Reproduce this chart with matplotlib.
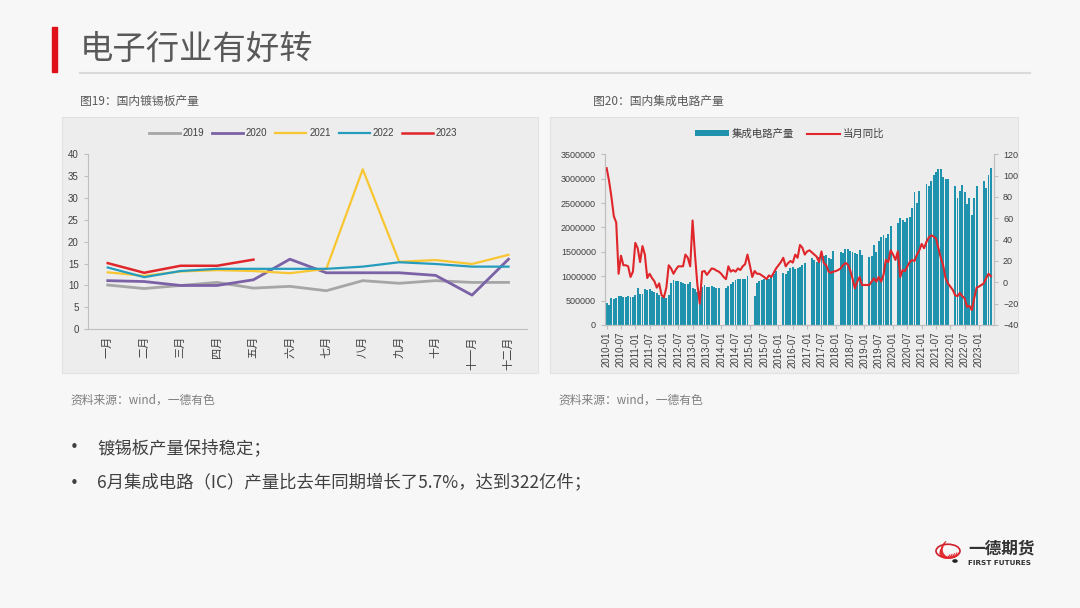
import numpy as np
import matplotlib.pyplot as plt
from matplotlib.patches import Rectangle, Circle, Arc
from matplotlib.lines import Line2D

plt.rcParams['font.family'] = ['Noto Sans CJK SC', 'DejaVu Sans']

W, H = 1080, 608

# ---- chart 1 data : 镀锡板产量 (万吨) ----
months = ['一月', '二月', '三月', '四月', '五月', '六月', '七月', '八月', '九月', '十月', '十一月', '十二月']
tin_2019 = [10.1, 9.3, 10.0, 10.7, 9.4, 9.8, 8.8, 11.1, 10.5, 11.1, 10.7, 10.7]
tin_2020 = [11.1, 10.9, 10.0, 10.0, 11.3, 16.0, 12.9, 12.9, 12.9, 12.3, 7.8, 16.0]
tin_2021 = [13.0, 12.2, 13.2, 13.5, 13.3, 12.8, 13.8, 36.5, 15.4, 15.8, 14.9, 17.0]
tin_2022 = [14.1, 11.9, 13.3, 13.8, 13.8, 13.8, 13.8, 14.3, 15.3, 14.9, 14.3, 14.3]
tin_2023 = [15.1, 12.9, 14.5, 14.5, 15.9]

# ---- chart 2 data : 集成电路产量 (万块) and 当月同比 (%) ----
nan = np.nan
ic_2010 = [450, 420, 550, 530, 560, 590, 590, 580, 580, 600, 580, 570]
ic_2011 = [620, 750, 630, 640, 740, 710, 730, 700, 680, 660, 620, 580]
ic_2012 = [580, 560, 620, 870, 930, 900, 900, 880, 860, 850, 840, 880]
ic_2013 = [750, 730, 680, 700, 780, 820, 780, 770, 790, 780, 750, 760]
ic_2014 = [nan, nan, 760, 790, 840, 880, 920, 940, 950, 940, 950, 1000]
ic_2015 = [nan, nan, 600, 870, 900, 930, 950, 960, 950, 980, 1040, 1100]
ic_2016 = [nan, nan, 1060, 1040, 1100, 1160, 1180, 1140, 1170, 1180, 1220, 1270]
ic_2017 = [nan, nan, 1370, 1340, 1300, 1400, 1440, 1410, 1440, 1380, 1350, 1520]
ic_2018 = [nan, nan, 1500, 1470, 1560, 1560, 1520, 1490, 1470, 1460, 1530, 1440]
ic_2019 = [nan, nan, 1400, 1420, 1640, 1500, 1720, 1800, 1840, 1780, 1860, 2020]
ic_2020 = [nan, nan, 2100, 2200, 2150, 2120, 2200, 2220, 2400, 2720, 2500, 2750]
ic_2021 = [nan, nan, 2900, 2860, 2960, 3080, 3130, 3200, 3200, 3030, 2990, 3000]
ic_2022 = [nan, nan, 2840, 2600, 2750, 2870, 2720, 2480, 2610, 2250, 2600, 2840]
ic_2023 = [nan, nan, 2950, 2800, 3070, 3220]

yoy_2010 = [107, 95, 80, 62, 56, 8, 25, 16, 16, 15, 5, 10]
yoy_2011 = [37, 32, 19, 34, 26, 4, 8, 4, 1, -5, -1, -12]
yoy_2012 = [-14, -5, 16, 13, 8, 12, 15, 15, 15, 26, 23, 15]
yoy_2013 = [58, 26, -2, -20, 10, 10.6, 7, 10, 13, 12.5, 11, 10]
yoy_2014 = [8, 5, 3, 15, 10, 11.5, 10, 13, 11.5, 15, 17, 26]
yoy_2015 = [16, 5, 10.6, 8, 8, 6.5, 5, 3, 6.5, 5, 9, 13]
yoy_2016 = [16, 19, 23, 15, 18, 20, 18.5, 26, 23, 35, 32.5, 26]
yoy_2017 = [29, 30, 28, 26, 24, 19, 29, 18, 16, 10, 9, 10]
yoy_2018 = [10.6, 11.5, 13, 16, 18, 17, 11.5, 3.7, -5.6, 0.6, 5, -2.5]
yoy_2019 = [-2.5, -2.5, -2.5, 0.6, 3.7, 0.6, 5, 0.6, 7, 21, 19, 30]
yoy_2020 = [26, 21, 29, 5, 11.5, 10.5, 15, 19, 21, 20, 26, 30]
yoy_2021 = [36, 32, 38, 42, 44, 43, 41, 32, 23, 16, 4, -1]
yoy_2022 = [-4, -7, -12, -13, -10, -13, -15, -23, -22, -26, -15, -5]
yoy_2023 = [-4, -2.5, -1, 4, 8, 5.7]

ic_years = list(range(2010, 2024))

# ---- figure / slide ----
fig = plt.figure(figsize=(W / 100, H / 100), dpi=100)
fig.patch.set_facecolor('#F7F7F7')


def fx(x):
    return x / W


def fy(y):
    return 1 - y / H


def box(x0, y0, x1, y1):
    return [fx(x0), fy(y1), fx(x1) - fx(x0), fy(y0) - fy(y1)]


# title block
fig.patches.append(Rectangle((fx(52), fy(72)), fx(5), fy(27) - fy(72),
                             transform=fig.transFigure, color='#E0101A'))
fig.lines.append(Line2D([fx(80), fx(1030)], [fy(73), fy(73)],
                        transform=fig.transFigure, color='#DADADA', lw=1.5))
fig.text(fx(80), fy(49), '电子行业有好转', fontsize=24, color='#595959', va='center', ha='left')

# captions
fig.text(fx(80), fy(101), '图19：国内镀锡板产量', fontsize=8.5, color='#595959', va='center')
fig.text(fx(593), fy(101), '图20：国内集成电路产量', fontsize=8.5, color='#595959', va='center')

# panels (behind the axes)
for x0, x1 in [(62, 538), (550, 1018)]:
    fig.patches.append(Rectangle((fx(x0), fy(373)), fx(x1) - fx(x0), fy(117) - fy(373),
                                 transform=fig.transFigure, facecolor='#EDEDED',
                                 edgecolor='#E2E2E2', lw=0.8, zorder=-1))

# sources
fig.text(fx(70), fy(400), '资料来源：wind，一德有色', fontsize=8.5, color='#7F7F7F', va='center')
fig.text(fx(558), fy(400), '资料来源：wind，一德有色', fontsize=8.5, color='#7F7F7F', va='center')

# bullets
bullets = ['镀锡板产量保持稳定；', '6月集成电路（IC）产量比去年同期增长了5.7%，达到322亿件；']
for i, b in enumerate(bullets):
    yy = 448 + i * 35
    fig.text(fx(70), fy(yy), '•', fontsize=11, color='#404040', va='center', fontfamily='DejaVu Sans')
    fig.text(fx(97), fy(yy), b, fontsize=12.5, color='#404040', va='center')

grid_c = '#BFBFBF'
tick_c = '#404040'

# ---- chart 1 ----
ax1 = fig.add_axes(box(87.7, 154, 526.7, 329.3))
ax1.set_facecolor('none')
xs = np.arange(12)
ax1.plot(xs, tin_2019, color='#A6A6A6', lw=2, label='2019')
ax1.plot(xs, tin_2020, color='#7B62A6', lw=2, label='2020')
ax1.plot(xs, tin_2021, color='#F8C630', lw=1.6, label='2021')
ax1.plot(xs, tin_2022, color='#259CBD', lw=1.6, label='2022')
ax1.plot(xs[:len(tin_2023)], tin_2023, color='#E0262B', lw=1.8, label='2023')
ax1.set_xlim(-0.55, 11.5)
ax1.set_ylim(0, 40)
ax1.set_yticks(range(0, 41, 5))
ax1.set_xticks(xs)
ax1.set_xticklabels(months, rotation=90, fontsize=8, color=tick_c)
for lab in ax1.get_yticklabels():
    lab.set_fontfamily('Liberation Sans')
ax1.tick_params(axis='y', labelsize=7, colors=tick_c, length=3, color=grid_c)
ax1.tick_params(axis='x', length=0, pad=5)
for s in ['top', 'right']:
    ax1.spines[s].set_visible(False)
for s in ['left', 'bottom']:
    ax1.spines[s].set_color(grid_c)
leg1 = ax1.legend(loc='center', bbox_to_anchor=(fx(303), fy(133)), bbox_transform=fig.transFigure,
                  ncol=5, frameon=False, fontsize=7, handlelength=3.2, columnspacing=0.8, handletextpad=0.3)
for t in leg1.get_texts():
    t.set_fontfamily('Liberation Sans')
    t.set_color(tick_c)

# ---- chart 2 ----
ic_all = np.array(sum([globals()['ic_%d' % y] for y in ic_years], []), dtype=float) * 1000
yoy_all = np.array(sum([globals()['yoy_%d' % y] for y in ic_years], []), dtype=float)
idx = np.arange(len(ic_all))
ok = ~np.isnan(ic_all)

ax2 = fig.add_axes(box(605, 154.3, 994, 325))
ax2.set_facecolor('none')
ax2.bar(idx[ok], ic_all[ok], width=0.8, color='#1F93AE', label='集成电路产量')
ax2.set_xlim(-0.7, 162.3)
ax2.set_ylim(0, 3500000)
ax2.set_yticks(range(0, 3500001, 500000))
ax2.set_yticklabels([str(v) for v in range(0, 3500001, 500000)])
tick_pos = list(range(0, len(ic_all), 6))
tick_lab = ['%d-%02d' % (2010 + p // 12, p % 12 + 1) for p in tick_pos]
ax2.set_xticks(tick_pos)
ax2.set_xticklabels(tick_lab, rotation=90, fontsize=7, color=tick_c, fontfamily='Liberation Sans')
for lab in ax2.get_yticklabels():
    lab.set_fontfamily('Liberation Sans')
ax2.tick_params(axis='y', labelsize=6.5, colors=tick_c, length=3, color=grid_c)
ax2.tick_params(axis='x', length=3, color=grid_c, pad=2)
ax2.spines['top'].set_visible(False)
for s in ['left', 'bottom', 'right']:
    ax2.spines[s].set_color(grid_c)

ax3 = ax2.twinx()
ax3.plot(idx, yoy_all, color='#E0262B', lw=1.5, label='当月同比')
ax3.set_ylim(-40, 120)
ax3.set_yticks(range(-40, 121, 20))
for lab in ax3.get_yticklabels():
    lab.set_fontfamily('Liberation Sans')
ax3.tick_params(axis='y', labelsize=6.5, colors=tick_c, length=3, color=grid_c)
ax3.spines['top'].set_visible(False)
for s in ['left', 'bottom', 'right']:
    ax3.spines[s].set_color(grid_c)

h1, l1 = ax2.get_legend_handles_labels()
h2, l2 = ax3.get_legend_handles_labels()
leg2 = ax3.legend(h1 + h2, l1 + l2, loc='center', bbox_to_anchor=(fx(790), fy(134)),
                  bbox_transform=fig.transFigure, ncol=2, frameon=False, fontsize=7.5,
                  handlelength=3.2, handleheight=0.5, columnspacing=1.2, handletextpad=0.3)
for t in leg2.get_texts():
    t.set_color(tick_c)

# ---- logo ----
lx, ly, r = 948, 551, 12
fig.patches.append(Circle((fx(lx), fy(ly)), r / W, transform=fig.transFigure,
                          facecolor='none', edgecolor='#D0202A', lw=1.2))
for k in range(5):
    fig.patches.append(Arc((fx(lx + 3 - k * 1.5), fy(ly - 2 + k)), (2 * r - 6 - k * 2) / W,
                           (2 * r - 6 - k * 2) / H, theta1=110, theta2=330,
                           transform=fig.transFigure, color='#E0262B', lw=0.8))
fig.patches.append(Circle((fx(955), fy(561)), 2 / W, transform=fig.transFigure, color='#222222'))
fig.text(fx(968), fy(548), '一德期货', fontsize=12, fontweight='bold', color='#333333', va='center')
fig.text(fx(968), fy(563), 'FIRST FUTURES', fontsize=5.2, fontweight='bold', color='#333333',
         va='center', fontfamily='DejaVu Sans')

fig.savefig('out.png', dpi=100, facecolor=fig.get_facecolor())
